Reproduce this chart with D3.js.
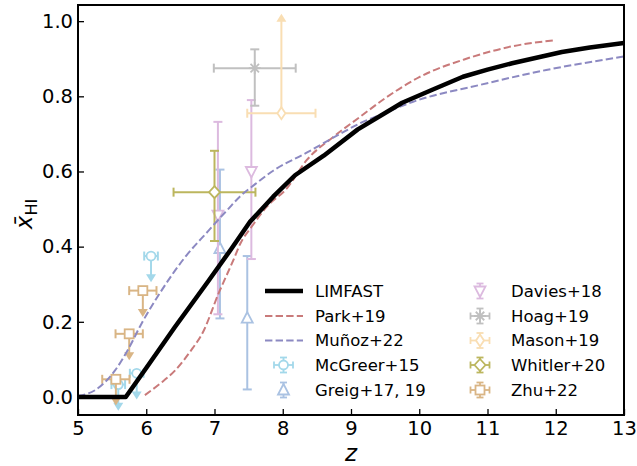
<!DOCTYPE html>
<html>
<head>
<meta charset="utf-8">
<script src="https://cdn.jsdelivr.net/npm/d3@7"></script>
<style>
  html, body { margin: 0; padding: 0; background: #fff; }
  svg { display: block; font-family: "DejaVu Sans", sans-serif; }
</style>
</head>
<body>
<svg id="chart" width="637" height="466"></svg>
<script>
// ---- model curves: redshift vs. neutral fraction ----
const limfastZ = [5.0, 5.7, 6.0, 6.42, 6.9, 7.25, 7.52, 7.86, 8.18, 8.6, 9.1, 9.75, 10.2, 10.64, 11.0, 11.36, 12.09, 12.5, 13.0];
const limfastX = [0.0, 0.0, 0.077, 0.186, 0.306, 0.395, 0.466, 0.533, 0.59, 0.642, 0.712, 0.783, 0.818, 0.852, 0.871, 0.888, 0.918, 0.93, 0.942];

const parkZ = [5.98, 6.2, 6.42, 6.68, 6.81, 7.07, 7.29, 7.37, 7.56, 7.76, 8.06, 8.35, 8.74, 9.13, 9.5, 10.0, 10.69, 11.36, 11.97];
const parkX = [0.005, 0.035, 0.07, 0.13, 0.165, 0.28, 0.37, 0.405, 0.457, 0.505, 0.555, 0.63, 0.692, 0.745, 0.795, 0.851, 0.9, 0.933, 0.949];

const munozZ = [5.0, 5.25, 5.54, 5.73, 5.93, 6.23, 6.56, 6.9, 7.2, 7.37, 7.6, 7.86, 8.35, 8.84, 9.13, 9.42, 9.9, 10.88, 11.86, 13.0];
const munozX = [0.003, 0.018, 0.07, 0.125, 0.195, 0.285, 0.37, 0.44, 0.5, 0.533, 0.567, 0.602, 0.65, 0.70, 0.728, 0.75, 0.785, 0.83, 0.87, 0.906];

// ---- observational constraints ----
const mcgreerZ = [5.59, 5.86, 6.07];
const mcgreerX = [0.033, 0.063, 0.375];
const mcgreerZerr = [0.1, 0.1, 0.1];

const greigZ = [7.08, 7.48];
const greigX = [0.395, 0.21];
const greigErrLo = [0.186, 0.19];
const greigErrHi = [0.21, 0.165];

const daviesZ = [7.05, 7.54];
const daviesX = [0.484, 0.6];
const daviesErrLo = [0.264, 0.233];
const daviesErrHi = [0.248, 0.19];

const hoagZ = [7.59];
const hoagX = [0.875];
const hoagErrLo = [0.1];
const hoagErrHi = [0.05];
const hoagZerr = [0.6];

const masonZ = [7.98];
const masonX = [0.755];
const masonZerr = [0.5];
const masonArrowTo = [1.02];

const whitlerZ = [7.0];
const whitlerX = [0.545];
const whitlerErrLo = [0.13];
const whitlerErrHi = [0.11];
const whitlerZerr = [0.6];

const zhuZ = [5.555, 5.75, 5.95];
const zhuX = [0.047, 0.168, 0.283];
const zhuZerr = [0.2, 0.2, 0.2];

const limitArrow = 0.07;

const xTicks = [5, 6, 7, 8, 9, 10, 11, 12, 13];
const yTicks = [0.0, 0.2, 0.4, 0.6, 0.8, 1.0];

// ---- colours ----
const col = {
  limfast: "#000000",
  park: "#c97a7a",
  munoz: "#8c89c2",
  mcgreer: "#a3d8ea",
  greig: "#aac2e2",
  davies: "#dcbadf",
  hoag: "#c0c0c0",
  mason: "#f9deb3",
  whitler: "#bcb65e",
  zhu: "#d9b585"
};

const svg = d3.select("#chart");
const L = 78, R = 624, T = 5, B = 415;
const x = d3.scaleLinear().domain([5, 13]).range([L, R]);
const y = d3.scaleLinear().domain([-0.048, 1.043]).range([B, T]);

const plot = svg.append("g");
plot.append("clipPath").attr("id", "clip")
  .append("rect").attr("x", L).attr("y", T).attr("width", R - L).attr("height", B - T);

// ---- marker shapes ----
function marker(g, kind, cx, cy, color) {
  const sw = 1.8;
  if (kind === "circle") {
    g.append("circle").attr("cx", cx).attr("cy", cy).attr("r", 4.5)
      .attr("fill", "#fff").attr("stroke", color).attr("stroke-width", sw);
  } else if (kind === "tri-up") {
    g.append("path").attr("d", `M${cx},${cy - 6}L${cx + 5.5},${cy + 4.5}L${cx - 5.5},${cy + 4.5}Z`)
      .attr("fill", "#fff").attr("stroke", color).attr("stroke-width", sw);
  } else if (kind === "tri-down") {
    g.append("path").attr("d", `M${cx},${cy + 6}L${cx + 5.5},${cy - 4.5}L${cx - 5.5},${cy - 4.5}Z`)
      .attr("fill", "#fff").attr("stroke", color).attr("stroke-width", sw);
  } else if (kind === "square") {
    g.append("rect").attr("x", cx - 4.5).attr("y", cy - 4.5).attr("width", 9).attr("height", 9)
      .attr("fill", "#fff").attr("stroke", color).attr("stroke-width", sw);
  } else if (kind === "diamond") {
    g.append("path").attr("d", `M${cx},${cy - 6}L${cx + 5.5},${cy}L${cx},${cy + 6}L${cx - 5.5},${cy}Z`)
      .attr("fill", "#fff").attr("stroke", color).attr("stroke-width", sw);
  } else if (kind === "thin-diamond") {
    g.append("path").attr("d", `M${cx},${cy - 6}L${cx + 4},${cy}L${cx},${cy + 6}L${cx - 4},${cy}Z`)
      .attr("fill", "#fff").attr("stroke", color).attr("stroke-width", sw);
  } else if (kind === "asterisk") {
    const r = 6;
    for (let k = 0; k < 4; k++) {
      const a = k * Math.PI / 4;
      g.append("line")
        .attr("x1", cx - r * Math.cos(a)).attr("y1", cy - r * Math.sin(a))
        .attr("x2", cx + r * Math.cos(a)).attr("y2", cy + r * Math.sin(a))
        .attr("stroke", color).attr("stroke-width", sw);
    }
  }
}

function seg(g, x1, y1, x2, y2, color, w) {
  g.append("line").attr("x1", x1).attr("y1", y1).attr("x2", x2).attr("y2", y2)
    .attr("stroke", color).attr("stroke-width", w || 2);
}

function arrowHead(g, cx, tipY, dir, color) {
  // dir = +1 points down, -1 points up
  const h = 8, w = 5;
  g.append("path")
    .attr("d", `M${cx},${tipY}L${cx - w},${tipY - dir * h}L${cx + w},${tipY - dir * h}Z`)
    .attr("fill", color);
}

// one errorbar point in data space
function errPoint(g, opt) {
  const cx = x(opt.z), cy = y(opt.v), c = opt.color, cap = 4.5;
  if (opt.zerr) {
    const x0 = x(opt.z - opt.zerr), x1 = x(opt.z + opt.zerr);
    seg(g, x0, cy, x1, cy, c);
    seg(g, x0, cy - cap, x0, cy + cap, c);
    seg(g, x1, cy - cap, x1, cy + cap, c);
  }
  if (opt.lo != null) {
    const y0 = y(opt.v - opt.lo), y1 = y(opt.v + opt.hi);
    seg(g, cx, y0, cx, y1, c);
    seg(g, cx - cap, y0, cx + cap, y0, c);
    seg(g, cx - cap, y1, cx + cap, y1, c);
  }
  if (opt.upper) {
    const tip = y(opt.v - opt.upper);
    seg(g, cx, cy, cx, tip - 6, c);
    arrowHead(g, cx, tip, 1, c);
  }
  if (opt.arrowTo != null) {
    const tip = y(opt.arrowTo);
    seg(g, cx, cy, cx, tip + 6, c);
    arrowHead(g, cx, tip, -1, c);
  }
  marker(g, opt.kind, cx, cy, c);
}

const pts = plot.append("g").attr("clip-path", "url(#clip)");

mcgreerZ.forEach((z, i) => errPoint(pts, { z, v: mcgreerX[i], zerr: mcgreerZerr[i], upper: limitArrow, kind: "circle", color: col.mcgreer }));
zhuZ.forEach((z, i) => errPoint(pts, { z, v: zhuX[i], zerr: zhuZerr[i], upper: limitArrow, kind: "square", color: col.zhu }));
greigZ.forEach((z, i) => errPoint(pts, { z, v: greigX[i], lo: greigErrLo[i], hi: greigErrHi[i], kind: "tri-up", color: col.greig }));
daviesZ.forEach((z, i) => errPoint(pts, { z, v: daviesX[i], lo: daviesErrLo[i], hi: daviesErrHi[i], kind: "tri-down", color: col.davies }));
hoagZ.forEach((z, i) => errPoint(pts, { z, v: hoagX[i], lo: hoagErrLo[i], hi: hoagErrHi[i], zerr: hoagZerr[i], kind: "asterisk", color: col.hoag }));
masonZ.forEach((z, i) => errPoint(pts, { z, v: masonX[i], zerr: masonZerr[i], arrowTo: masonArrowTo[i], kind: "thin-diamond", color: col.mason }));
whitlerZ.forEach((z, i) => errPoint(pts, { z, v: whitlerX[i], lo: whitlerErrLo[i], hi: whitlerErrHi[i], zerr: whitlerZerr[i], kind: "diamond", color: col.whitler }));

// ---- curves ----
const line = d3.line().x(d => x(d[0])).y(d => y(d[1]));
const smooth = d3.line().x(d => x(d[0])).y(d => y(d[1])).curve(d3.curveMonotoneX);
const curves = plot.append("g").attr("clip-path", "url(#clip)");
curves.append("path").datum(d3.zip(parkZ, parkX)).attr("d", smooth)
  .attr("fill", "none").attr("stroke", col.park).attr("stroke-width", 2).attr("stroke-dasharray", "7.4,3.2");
curves.append("path").datum(d3.zip(munozZ, munozX)).attr("d", smooth)
  .attr("fill", "none").attr("stroke", col.munoz).attr("stroke-width", 2).attr("stroke-dasharray", "7.4,3.2");
curves.append("path").datum(d3.zip(limfastZ, limfastX)).attr("d", line)
  .attr("fill", "none").attr("stroke", col.limfast).attr("stroke-width", 4.5).attr("stroke-linejoin", "round");

// ---- axes ----
const axB = d3.axisBottom(x).tickValues(xTicks).tickSizeInner(-6).tickSizeOuter(0).tickPadding(6).tickFormat(d3.format("d"));
const axL = d3.axisLeft(y).tickValues(yTicks).tickSizeInner(-6).tickSizeOuter(0).tickPadding(5).tickFormat(d3.format(".1f"));
const gx = svg.append("g").attr("transform", `translate(0,${B})`).call(axB);
const gy = svg.append("g").attr("transform", `translate(${L},0)`).call(axL);
[gx, gy].forEach(g => {
  g.select(".domain").remove();
  g.selectAll(".tick line").attr("stroke", "#000").attr("stroke-width", 1.3);
  g.selectAll(".tick text").attr("fill", "#000").attr("font-size", 19.5).attr("font-family", "DejaVu Sans");
});
svg.append("rect").attr("x", L).attr("y", T).attr("width", R - L).attr("height", B - T)
  .attr("fill", "none").attr("stroke", "#000").attr("stroke-width", 2);

// axis titles
svg.append("text").attr("x", (L + R) / 2).attr("y", 461).attr("text-anchor", "middle")
  .attr("font-size", 23).attr("font-style", "italic").text("z");
const yl = svg.append("text").attr("transform", "translate(32,214) rotate(-90)").attr("text-anchor", "middle")
  .attr("font-size", 23);
yl.append("tspan").attr("font-style", "italic").text("x\u0304");
yl.append("tspan").attr("font-size", 16).attr("dy", 5).text("HI");

// ---- legend ----
const leg = svg.append("g");
const rowY = [291, 316, 340.5, 365, 390];
const legendLines = [
  { label: "LIMFAST", color: col.limfast, w: 4.5, dash: null },
  { label: "Park+19", color: col.park, w: 2, dash: "7.4,3.2" },
  { label: "Muñoz+22", color: col.munoz, w: 2, dash: "7.4,3.2" }
];
legendLines.forEach((d, i) => {
  leg.append("line").attr("x1", 265).attr("x2", 303).attr("y1", rowY[i]).attr("y2", rowY[i])
    .attr("stroke", d.color).attr("stroke-width", d.w).attr("stroke-dasharray", d.dash);
  leg.append("text").attr("x", 315).attr("y", rowY[i]).attr("dy", "0.36em")
    .attr("font-size", 16.5).text(d.label);
});
const legendPts = [
  { label: "McGreer+15", color: col.mcgreer, kind: "circle", col: 0, row: 3, xe: true, ye: true },
  { label: "Greig+17, 19", color: col.greig, kind: "tri-up", col: 0, row: 4, xe: false, ye: true },
  { label: "Davies+18", color: col.davies, kind: "tri-down", col: 1, row: 0, xe: false, ye: true },
  { label: "Hoag+19", color: col.hoag, kind: "asterisk", col: 1, row: 1, xe: true, ye: true },
  { label: "Mason+19", color: col.mason, kind: "thin-diamond", col: 1, row: 2, xe: true, ye: true },
  { label: "Whitler+20", color: col.whitler, kind: "diamond", col: 1, row: 3, xe: true, ye: true },
  { label: "Zhu+22", color: col.zhu, kind: "square", col: 1, row: 4, xe: true, ye: true }
];
legendPts.forEach(d => {
  const cx = d.col === 0 ? 283.5 : 480, cy = rowY[d.row], c = d.color, cap = 3.5;
  if (d.xe) {
    seg(leg, cx - 9.5, cy, cx + 9.5, cy, c, 1.8);
    seg(leg, cx - 9.5, cy - cap, cx - 9.5, cy + cap, c, 1.8);
    seg(leg, cx + 9.5, cy - cap, cx + 9.5, cy + cap, c, 1.8);
  }
  if (d.ye) {
    seg(leg, cx, cy - 7.5, cx, cy + 7.5, c, 1.8);
    seg(leg, cx - cap, cy - 7.5, cx + cap, cy - 7.5, c, 1.8);
    seg(leg, cx - cap, cy + 7.5, cx + cap, cy + 7.5, c, 1.8);
  }
  marker(leg, d.kind, cx, cy, c);
  leg.append("text").attr("x", d.col === 0 ? 315 : 511).attr("y", cy).attr("dy", "0.36em")
    .attr("font-size", 16.5).text(d.label);
});
</script>
</body>
</html>
